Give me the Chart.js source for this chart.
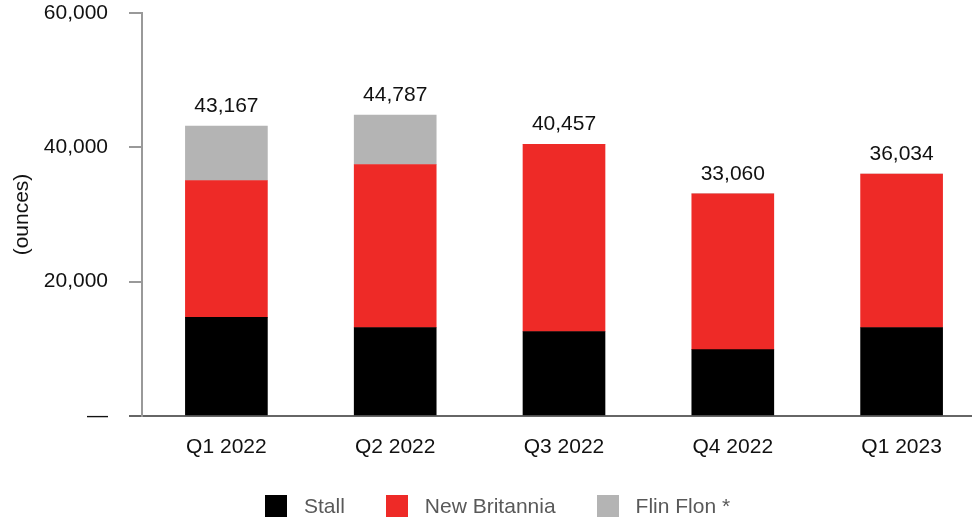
<!DOCTYPE html>
<html>
<head>
<meta charset="utf-8">
<script src="https://cdn.jsdelivr.net/npm/chart.js@4/dist/chart.umd.min.js"></script>
<style>
  html, body { margin: 0; padding: 0; background: #fff; overflow: hidden; }
  #wrap { position: relative; width: 1000px; height: 520px; }
  #legend {
    position: absolute; left: 265px; top: 494px;
    display: flex; align-items: center;
    font-family: "Liberation Sans", Arial, sans-serif; font-size: 21px; color: #595959;
  }
  #legend .item { display: flex; align-items: center; margin-right: 41px; }
  #legend .box { width: 22px; height: 22px; margin-right: 17px; }
</style>
</head>
<body>
<div id="wrap">
  <canvas id="myChart" width="1000" height="520"></canvas>
  <div id="legend"></div>
</div>
<script>
const quarters = ['Q1 2022', 'Q2 2022', 'Q3 2022', 'Q4 2022', 'Q1 2023'];
const stall = [14680, 13180, 12580, 9890, 13180];
const newBritannia = [20380, 24270, 27877, 23170, 22854];
const flinFlon = [8107, 7337, 0, 0, 0];
const yTicks = [0, 20000, 40000, 60000];

const FONT = '"Liberation Sans", Arial, sans-serif';

const series = [
    { label: 'Stall', data: stall, color: '#000000' },
    { label: 'New Britannia', data: newBritannia, color: '#EE2A27' },
    { label: 'Flin Flon *', data: flinFlon, color: '#B4B4B4' },
];

// totals printed above each stack
const totals = quarters.map((q, i) => stall[i] + newBritannia[i] + flinFlon[i]);

const totalLabels = {
    id: 'totalLabels',
    afterDatasetsDraw(chart) {
        const ctx = chart.ctx;
        const y = chart.scales.y;
        const meta = chart.getDatasetMeta(0);
        ctx.save();
        ctx.font = '21px ' + FONT;
        ctx.fillStyle = '#111';
        ctx.textAlign = 'center';
        ctx.textBaseline = 'alphabetic';
        totals.forEach((t, i) => {
            ctx.fillText(t.toLocaleString('en-US'), meta.data[i].x, y.getPixelForValue(t) - 14);
        });
        ctx.restore();
    }
};

const ch = document.getElementById('myChart').getContext('2d');

const myChart = new Chart(ch, {
    type: 'bar',
    data: {
        labels: quarters,
        datasets: series.map(s => ({
            label: s.label,
            data: s.data,
            backgroundColor: s.color,
            borderWidth: 0,
            barThickness: 82,
        })),
    },
    options: {
        responsive: false,
        animation: false,
        layout: { padding: { top: 13, right: 14, bottom: 63, left: 0 } },
        plugins: {
            legend: { display: false },
            tooltip: { enabled: false },
        },
        scales: {
            x: {
                stacked: true,
                afterFit(scale) {
                    scale.height = 41;
                    scale.paddingLeft = 0;
                    scale.paddingRight = 0;
                },
                grid: { display: false, drawTicks: false },
                border: { display: true, color: '#666', width: 2 },
                ticks: {
                    color: '#111',
                    font: { family: FONT, size: 21 },
                    padding: 19,
                },
            },
            y: {
                stacked: true,
                min: 0,
                max: 60000,
                afterFit(scale) {
                    scale.width = 142;
                    scale.paddingTop = 0;
                    scale.paddingBottom = 0;
                },
                afterBuildTicks(scale) {
                    scale.ticks = yTicks.map(v => ({ value: v }));
                },
                border: { display: true, color: '#999', width: 2 },
                grid: {
                    drawOnChartArea: false,
                    drawTicks: true,
                    tickLength: 13,
                    color: c => (c.tick && c.tick.value === 0 ? '#666' : '#999'),
                    lineWidth: 2,
                },
                ticks: {
                    color: '#111',
                    font: { family: FONT, size: 21 },
                    padding: 21,
                    callback: v => (v === 0 ? '—' : v.toLocaleString('en-US')),
                },
                title: {
                    display: true,
                    text: '(ounces)',
                    color: '#111',
                    font: { family: FONT, size: 21 },
                    padding: { top: 10, bottom: 0 },
                },
            },
        },
    },
    plugins: [totalLabels],
});

// legend row under the axis
const legend = document.getElementById('legend');
series.forEach(s => {
    const item = document.createElement('div');
    item.className = 'item';
    const box = document.createElement('span');
    box.className = 'box';
    box.style.background = s.color;
    const txt = document.createElement('span');
    txt.textContent = s.label;
    item.appendChild(box);
    item.appendChild(txt);
    legend.appendChild(item);
});
</script>
</body>
</html>
